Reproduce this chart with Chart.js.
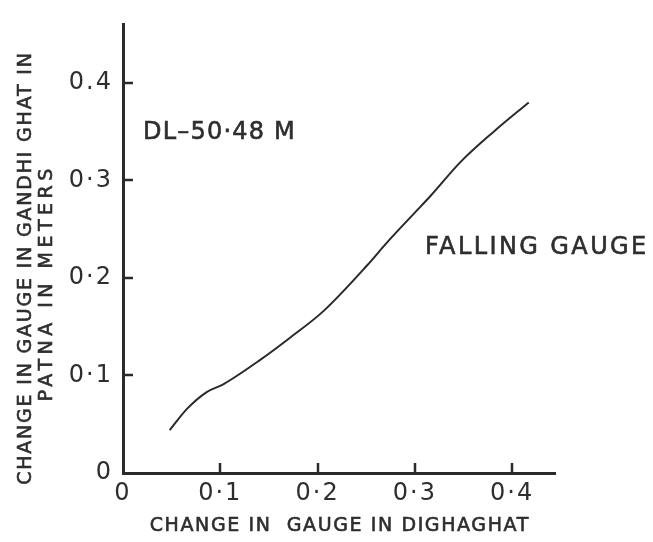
<!DOCTYPE html>
<html>
<head>
<meta charset="utf-8">
<script src="https://cdn.jsdelivr.net/npm/chart.js@4/dist/chart.umd.min.js"></script>
<style>
  html, body { margin: 0; padding: 0; background: #ffffff; }
  #wrap { width: 653px; height: 542px; }
</style>
</head>
<body>
<div id="wrap"><canvas id="c" width="653" height="542"></canvas></div>
<script>
// ---- data ----
const dighaghat = [0.048, 0.066, 0.086, 0.103, 0.141, 0.172, 0.206, 0.251, 0.271, 0.299, 0.316, 0.347, 0.381, 0.417];
const gandhiGhat = [0.044, 0.066, 0.083, 0.091, 0.116, 0.139, 0.166, 0.213, 0.236, 0.266, 0.284, 0.319, 0.350, 0.380];

const xTickValues = [0, 0.1, 0.2, 0.3, 0.4];
const xTickLabels = ['0', '0·1', '0·2', '0·3', '0·4'];
const yTickValues = [0, 0.1, 0.2, 0.3, 0.4];
const yTickLabels = ['0', '0·1', '0·2', '0·3', '0.4'];

const xTitle = 'CHANGE IN  GAUGE IN DIGHAGHAT';
const yTitleLine1 = 'CHANGE IN GAUGE IN GANDHI GHAT IN';
const yTitleLine2 = 'PATNA IN METERS';
const noteLevel = 'DL–50·48 M';
const noteState = 'FALLING GAUGE';

// ---- styling ----
const INK = '#2a2a2a';
const TEXT = '#2e2e2e';
const FONT = '"DejaVu Sans", "Liberation Sans", sans-serif';

const points = dighaghat.map((v, i) => ({ x: v, y: gandhiGhat[i] }));

function drawSpaced(ctx, text, x, y, spacing, align) {
  ctx.letterSpacing = spacing + 'px';
  const w = ctx.measureText(text).width - spacing;
  let sx = x;
  if (align === 'center') sx = x - w / 2;
  else if (align === 'right') sx = x - w;
  ctx.textAlign = 'left';
  ctx.fillText(text, sx, y);
  ctx.lineWidth = 0.6;
  ctx.strokeStyle = ctx.fillStyle;
  ctx.strokeText(text, sx, y);
}

const spacingPlugin = {
  id: 'spacing',
  beforeDraw(chart) { chart.ctx.letterSpacing = '2px'; },
  afterDraw(chart) { chart.ctx.letterSpacing = '0px'; }
};

const decorPlugin = {
  id: 'decor',
  afterDraw(chart) {
    const { ctx, scales: { x, y } } = chart;
    ctx.save();
    // inward tick marks
    ctx.strokeStyle = INK;
    ctx.lineWidth = 2.5;
    xTickValues.filter(v => v > 0).forEach(v => {
      const px = Math.round(x.getPixelForValue(v));
      ctx.beginPath();
      ctx.moveTo(px, y.bottom);
      ctx.lineTo(px, y.bottom - 10);
      ctx.stroke();
    });
    yTickValues.filter(v => v > 0).forEach(v => {
      const py = Math.round(y.getPixelForValue(v));
      ctx.beginPath();
      ctx.moveTo(x.left, py);
      ctx.lineTo(x.left + 10, py);
      ctx.stroke();
    });

    ctx.fillStyle = TEXT;
    ctx.textBaseline = 'middle';

    // annotations placed in data units
    ctx.font = '24px ' + FONT;
    drawSpaced(ctx, noteLevel, x.getPixelForValue(0.0206), y.getPixelForValue(0.349), 1.2, 'left');
    drawSpaced(ctx, noteState, x.getPixelForValue(0.3105), y.getPixelForValue(0.2314), 2.4, 'left');

    // x axis title
    ctx.font = '19px ' + FONT;
    drawSpaced(ctx, xTitle, 339, 526, 1.6, 'center');

    // y axis title (two lines, rotated)
    ctx.save();
    ctx.translate(26, 269);
    ctx.rotate(-Math.PI / 2);
    drawSpaced(ctx, yTitleLine1, 0, 0, 1.8, 'center');
    ctx.restore();
    ctx.save();
    ctx.translate(47, 285);
    ctx.rotate(-Math.PI / 2);
    drawSpaced(ctx, yTitleLine2, 0, 0, 4.5, 'center');
    ctx.restore();

    ctx.restore();
  }
};

new Chart(document.getElementById('c'), {
  type: 'line',
  data: {
    datasets: [{
      data: points,
      borderColor: INK,
      borderWidth: 2,
      pointRadius: 0,
      fill: false,
      tension: 0.4,
      cubicInterpolationMode: 'monotone'
    }]
  },
  options: {
    responsive: false,
    animation: false,
    devicePixelRatio: 1,
    layout: { padding: { top: 12, right: 98, left: 0, bottom: 0 } },
    plugins: { legend: { display: false }, tooltip: { enabled: false } },
    scales: {
      x: {
        type: 'linear',
        min: 0,
        max: 0.444,
        afterFit(s) { s.height = 69; },
        afterBuildTicks(s) { s.ticks = xTickValues.map(v => ({ value: v })); },
        grid: { display: false, drawTicks: false },
        border: { display: true, color: INK, width: 3 },
        ticks: {
          padding: 6,
          color: TEXT,
          font: { family: FONT, size: 24 },
          maxRotation: 0,
          callback: (v, i) => xTickLabels[i]
        }
      },
      y: {
        type: 'linear',
        min: 0,
        max: 0.46,
        afterFit(s) { s.width = 123; },
        afterBuildTicks(s) { s.ticks = yTickValues.map(v => ({ value: v })); },
        grid: { display: false, drawTicks: false },
        border: { display: true, color: INK, width: 3 },
        ticks: {
          padding: 10,
          color: TEXT,
          font: { family: FONT, size: 24 },
          callback: (v, i) => yTickLabels[i]
        }
      }
    }
  },
  plugins: [spacingPlugin, decorPlugin]
});
</script>
</body>
</html>
